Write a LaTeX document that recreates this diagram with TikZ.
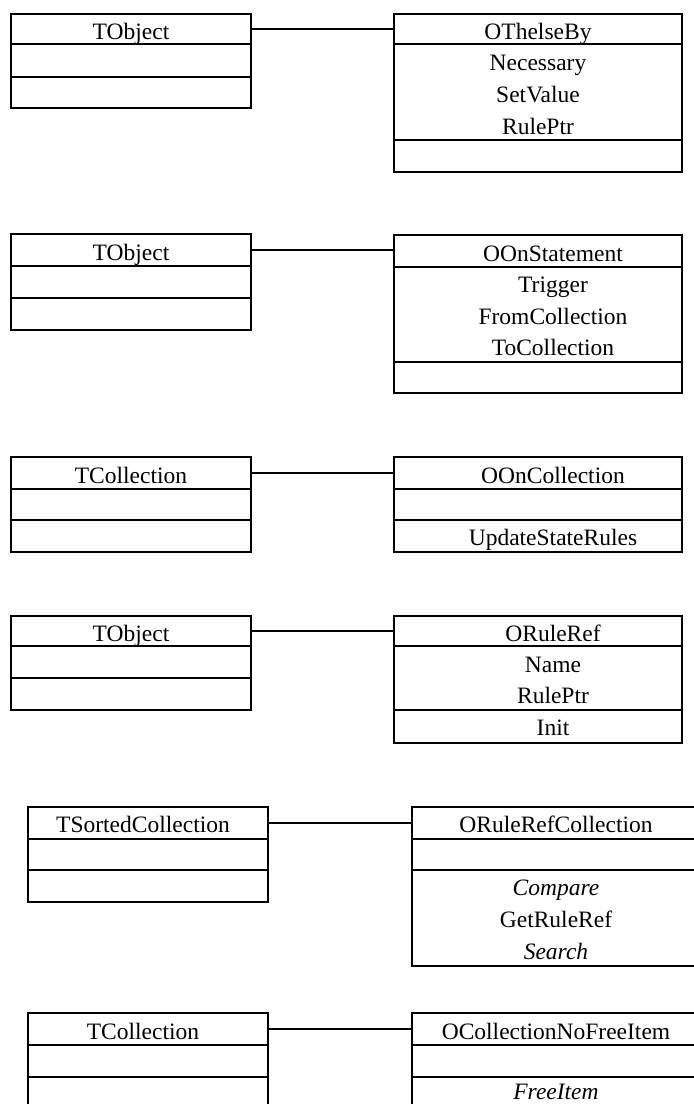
\documentclass[tikz,border=0pt]{standalone}
\usepackage{fontspec}
\setmainfont{Liberation Serif}
\begin{document}
\begin{tikzpicture}[x=1pt,y=-1pt,
  cell/.style={draw=black, line width=1.2pt, inner sep=0pt, outer sep=0pt,
               anchor=north west, minimum width=#1},
  cell/.default=240pt,
  txt/.style={anchor=base, inner sep=0pt, font=\fontsize{23.5}{28}\selectfont},
  itxt/.style={txt, font=\fontsize{23.5}{28}\selectfont\itshape},
  conn/.style={draw=black, line width=1.2pt}]
\useasboundingbox (0,0) rectangle (694,1104);
\fill[white] (0,0) rectangle (694,1104);
\clip (0,0) rectangle (694,1104);

% ---- TObject -- OThelseBy
\node[cell, minimum height=30pt] (l1h) at (11,14) {};
\node[cell, minimum height=33pt] (l1a) at (l1h.south west) {};
\node[cell, minimum height=31pt] (l1o) at (l1a.south west) {};
\node[cell=288pt, minimum height=30pt] (r1h) at (394,14) {};
\node[cell=288pt, minimum height=96pt] (r1a) at (r1h.south west) {};
\node[cell=288pt, minimum height=32pt] (r1o) at (r1a.south west) {};
\node[txt] (t1l) at (131,39) {TObject};
\node[txt] (t1r) at (538,39) {OThelseBy};
\node[txt] (t1a) at (538,70) {Necessary};
\node[txt] (t1b) at (538,102) {SetValue};
\node[txt] (t1c) at (538,134) {RulePtr};
\draw[conn] (l1h.east) -- (l1h.east -| r1h.west);

% ---- TObject -- OOnStatement
\node[cell, minimum height=32pt] (l2h) at (11,234) {};
\node[cell, minimum height=32pt] (l2a) at (l2h.south west) {};
\node[cell, minimum height=32pt] (l2o) at (l2a.south west) {};
\node[cell=288pt, minimum height=32pt] (r2h) at (394,235) {};
\node[cell=288pt, minimum height=95pt] (r2a) at (r2h.south west) {};
\node[cell=288pt, minimum height=31pt] (r2o) at (r2a.south west) {};
\node[txt] (t2l) at (131,260) {TObject};
\node[txt] (t2r) at (553,261) {OOnStatement};
\node[txt] (t2a) at (553,292) {Trigger};
\node[txt] (t2b) at (553,324) {FromCollection};
\node[txt] (t2c) at (553,355) {ToCollection};
\draw[conn] (l2h.east) -- (l2h.east -| r2h.west);

% ---- TCollection -- OOnCollection
\node[cell, minimum height=32pt] (l3h) at (11,457) {};
\node[cell, minimum height=31pt] (l3a) at (l3h.south west) {};
\node[cell, minimum height=32pt] (l3o) at (l3a.south west) {};
\node[cell=288pt, minimum height=32pt] (r3h) at (394,457) {};
\node[cell=288pt, minimum height=31pt] (r3a) at (r3h.south west) {};
\node[cell=288pt, minimum height=32pt] (r3o) at (r3a.south west) {};
\node[txt] (t3l) at (131,483) {TCollection};
\node[txt] (t3r) at (553,483) {OOnCollection};
\node[txt] (t3a) at (553,545) {UpdateStateRules};
\draw[conn] (l3h.east) -- (l3h.east -| r3h.west);

% ---- TObject -- ORuleRef
\node[cell, minimum height=30pt] (l4h) at (11,616) {};
\node[cell, minimum height=32pt] (l4a) at (l4h.south west) {};
\node[cell, minimum height=32pt] (l4o) at (l4a.south west) {};
\node[cell=288pt, minimum height=30pt] (r4h) at (394,616) {};
\node[cell=288pt, minimum height=64pt] (r4a) at (r4h.south west) {};
\node[cell=288pt, minimum height=33pt] (r4o) at (r4a.south west) {};
\node[txt] (t4l) at (131,641) {TObject};
\node[txt] (t4r) at (553,641) {ORuleRef};
\node[txt] (t4a) at (553,672) {Name};
\node[txt] (t4b) at (553,703) {RulePtr};
\node[txt] (t4c) at (553,735) {Init};
\draw[conn] (l4h.east) -- (l4h.east -| r4h.west);

% ---- TSortedCollection -- ORuleRefCollection
\node[cell, minimum height=32pt] (l5h) at (28,807) {};
\node[cell, minimum height=31pt] (l5a) at (l5h.south west) {};
\node[cell, minimum height=32pt] (l5o) at (l5a.south west) {};
\node[cell=288pt, minimum height=32pt] (r5h) at (412,807) {};
\node[cell=288pt, minimum height=31pt] (r5a) at (r5h.south west) {};
\node[cell=288pt, minimum height=96pt] (r5o) at (r5a.south west) {};
\node[txt] (t5l) at (143,832) {TSortedCollection};
\node[txt] (t5r) at (556,832) {ORuleRefCollection};
\node[itxt] (t5a) at (556,895) {Compare};
\node[txt] (t5b) at (556,927) {GetRuleRef};
\node[itxt] (t5c) at (556,959) {Search};
\draw[conn] (l5h.east) -- (l5h.east -| r5h.west);

% ---- TCollection -- OCollectionNoFreeItem
\node[cell, minimum height=32pt] (l6h) at (28,1013) {};
\node[cell, minimum height=32pt] (l6a) at (l6h.south west) {};
\node[cell, minimum height=33pt] (l6o) at (l6a.south west) {};
\node[cell=288pt, minimum height=32pt] (r6h) at (412,1013) {};
\node[cell=288pt, minimum height=32pt] (r6a) at (r6h.south west) {};
\node[cell=288pt, minimum height=33pt] (r6o) at (r6a.south west) {};
\node[txt] (t6l) at (143,1039) {TCollection};
\node[txt] (t6r) at (556,1039) {OCollectionNoFreeItem};
\node[itxt] (t6a) at (556,1099) {FreeItem};
\draw[conn] (l6h.east) -- (l6h.east -| r6h.west);
\end{tikzpicture}
\end{document}
